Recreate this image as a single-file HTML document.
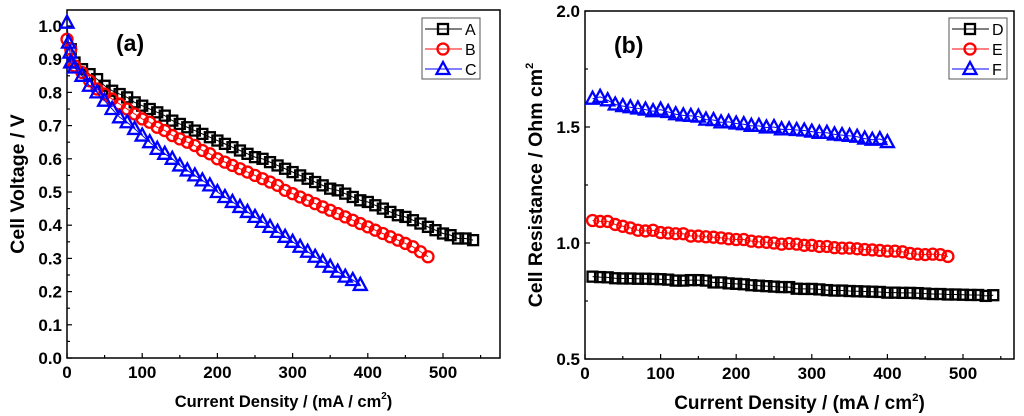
<!DOCTYPE html>
<html><head><meta charset="utf-8"><style>
html,body{margin:0;padding:0;background:#fff;}
svg{display:block;font-family:"Liberation Sans",Arial,sans-serif;}
</style></head><body>
<svg id="s" width="1024" height="416" viewBox="0 0 1024 416"></svg>
<script>
const xA=[5,10,20,30,40,50,60,70,80,90,100,110,120,130,140,150,160,170,180,190,200,210,220,230,240,250,260,270,280,290,300,310,320,330,340,350,360,370,380,390,400,410,420,430,440,450,460,470,480,490,500,510,520,530,540];
const yA=[0.93,0.89,0.87,0.855,0.84,0.82,0.805,0.795,0.785,0.77,0.76,0.75,0.74,0.73,0.715,0.705,0.695,0.685,0.675,0.665,0.655,0.645,0.635,0.625,0.615,0.605,0.6,0.59,0.58,0.57,0.56,0.55,0.54,0.53,0.52,0.51,0.505,0.495,0.485,0.475,0.47,0.46,0.45,0.44,0.43,0.425,0.415,0.405,0.395,0.385,0.375,0.37,0.36,0.36,0.355];
const xB=[0,5,10,20,30,40,50,60,70,80,90,100,110,120,130,140,150,160,170,180,190,200,210,220,230,240,250,260,270,280,290,300,310,320,330,340,350,360,370,380,390,400,410,420,430,440,450,460,470,480];
const yB=[0.96,0.93,0.88,0.86,0.835,0.81,0.795,0.78,0.765,0.75,0.735,0.72,0.71,0.695,0.685,0.67,0.66,0.65,0.64,0.625,0.615,0.6,0.59,0.58,0.57,0.56,0.55,0.54,0.53,0.52,0.505,0.495,0.485,0.475,0.465,0.455,0.445,0.435,0.425,0.415,0.405,0.395,0.385,0.375,0.365,0.355,0.345,0.335,0.32,0.305];
const xC=[0,2,4,5,10,20,30,40,50,60,70,80,90,100,110,120,130,140,150,160,170,180,190,200,210,220,230,240,250,260,270,280,290,300,310,320,330,340,350,360,370,380,390];
const yC=[1.01,0.95,0.92,0.89,0.875,0.85,0.82,0.8,0.775,0.75,0.725,0.71,0.69,0.67,0.65,0.63,0.615,0.6,0.58,0.565,0.55,0.535,0.52,0.5,0.485,0.47,0.455,0.44,0.425,0.41,0.395,0.38,0.365,0.35,0.335,0.32,0.305,0.29,0.275,0.26,0.245,0.235,0.22];
const xD=[10,20,30,40,50,60,70,80,90,100,110,120,130,140,150,160,170,180,190,200,210,220,230,240,250,260,270,280,290,300,310,320,330,340,350,360,370,380,390,400,410,420,430,440,450,460,470,480,490,500,510,520,530,540];
const yD=[0.855,0.853,0.852,0.848,0.847,0.847,0.846,0.846,0.845,0.844,0.842,0.838,0.838,0.84,0.84,0.838,0.83,0.83,0.826,0.824,0.822,0.818,0.816,0.814,0.812,0.81,0.81,0.803,0.802,0.802,0.8,0.797,0.795,0.795,0.793,0.792,0.791,0.79,0.789,0.786,0.786,0.785,0.785,0.784,0.782,0.78,0.78,0.778,0.778,0.777,0.776,0.776,0.772,0.775];
const xE=[10,20,30,40,50,60,70,80,90,100,110,120,130,140,150,160,170,180,190,200,210,220,230,240,250,260,270,280,290,300,310,320,330,340,350,360,370,380,390,400,410,420,430,440,450,460,470,480];
const yE=[1.097,1.093,1.093,1.08,1.072,1.065,1.055,1.052,1.055,1.045,1.043,1.04,1.04,1.03,1.03,1.027,1.025,1.022,1.018,1.015,1.015,1.008,1.005,1.003,1.0,0.995,0.998,0.995,0.99,0.99,0.985,0.985,0.98,0.978,0.978,0.975,0.972,0.97,0.968,0.965,0.965,0.962,0.955,0.952,0.95,0.952,0.95,0.942];
const xF=[10,20,30,40,50,60,70,80,90,100,110,120,130,140,150,160,170,180,190,200,210,220,230,240,250,260,270,280,290,300,310,320,330,340,350,360,370,380,390,400];
const yF=[1.622,1.63,1.615,1.597,1.59,1.585,1.58,1.575,1.568,1.575,1.565,1.555,1.55,1.548,1.545,1.532,1.53,1.52,1.522,1.515,1.512,1.505,1.505,1.498,1.5,1.49,1.49,1.487,1.485,1.48,1.475,1.475,1.468,1.465,1.462,1.458,1.45,1.445,1.448,1.435];
const xTicks=[0,100,200,300,400,500];
const yTicksL=[0.0,0.1,0.2,0.3,0.4,0.5,0.6,0.7,0.8,0.9,1.0];
const yTicksR=[0.5,1.0,1.5,2.0];

const NS="http://www.w3.org/2000/svg";
const svg=document.getElementById('s');
function mk(tag,attrs,parent,text){const e=document.createElementNS(NS,tag);for(const k in attrs)e.setAttribute(k,attrs[k]);if(text!==undefined)e.textContent=text;(parent||svg).appendChild(e);return e;}

function panel(P){
  const g=mk('g',{});
  
  
  const sx=v=>P.x0+(v-0)*(P.x500-P.x0)/500;
  const sy=v=>P.yb+(v-P.ymin)*(P.yt-P.yb)/(P.ymax-P.ymin);
  const fr=mk('rect',{x:P.fl,y:P.ft,width:P.fr-P.fl,height:P.fb-P.ft,fill:'none',stroke:'#000','stroke-width':1.5},g);
  
  for(let v=0;v<=550;v+=50){const X=sx(v);const L=v%100===0?5:3;mk('line',{x1:X,x2:X,y1:P.fb,y2:P.fb-L,stroke:'#000','stroke-width':1.2},g);}
  xTicks.forEach(v=>{const t=mk('text',{x:sx(v),y:P.fb+20,'text-anchor':'middle','font-size':17,'font-weight':'bold'},g,String(v));});
  const yt=P.yticks;const step=(yt[1]-yt[0])/2;
  for(let v=P.ymin;v<=P.ymax+1e-9;v+=step){const Y=sy(v);const major=Math.abs(((v-P.ymin)/(step*2))-Math.round((v-P.ymin)/(step*2)))<1e-6;mk('line',{x1:P.fl,x2:P.fl+(major?5:3),y1:Y,y2:Y,stroke:'#000','stroke-width':1.2},g);}
  yt.forEach(v=>{const t=mk('text',{x:P.fl-5,y:sy(v)+6,'text-anchor':'end','font-size':17,'font-weight':'bold'},g,v.toFixed(1));});
  const xt=mk('text',{x:(P.fl+P.fr)/2,y:P.xty,'text-anchor':'middle','font-size':P.xtfs,'font-weight':'bold'},g);
  xt.innerHTML='Current Density / (mA / cm<tspan font-size="'+(P.xtfs*0.6)+'" dy="-8">2</tspan><tspan dy="8">)</tspan>';
  
  const ytl=mk('text',{x:0,y:0,transform:'translate('+P.ytx+','+((P.ft+P.fb)/2)+') rotate(-90)','text-anchor':'middle','font-size':P.ytfs,'font-weight':'bold'},g);
  ytl.innerHTML=P.ytitle;
  
  const lab=mk('text',{x:P.labx,y:P.laby,'font-size':23,'font-weight':'bold'},g,P.label);
  
  P.series.forEach(s=>{
    const sg=mk('g',{},g);
    
    
    const pts=s.x.map((v,i)=>sx(v)+','+sy(s.y[i])).join(' ');
    mk('polyline',{points:pts,fill:'none',stroke:s.c,'stroke-width':1},sg);
    s.x.forEach((v,i)=>{const m=marker(s.m,sx(v),sy(s.y[i]),s.c,sg);});
  });
  const lg=mk('g',{},g);
  
  mk('rect',{x:P.lx,y:18,width:58,height:61,fill:'#fff',stroke:'#555','stroke-width':1},lg);
  P.series.forEach((s,i)=>{const Y=29+i*20;
    const le=mk('g',{},lg);
    mk('line',{x1:P.lx+3,x2:P.lx+40,y1:Y,y2:Y,stroke:s.c,'stroke-width':1},le);
    marker(s.m,P.lx+21,Y,s.c,le);
    mk('text',{x:P.lx+43,y:Y+6,'font-size':16},le,s.n);});
}
function marker(type,x,y,c,p){
  if(type==='s')return mk('rect',{x:x-5,y:y-5,width:10,height:10,fill:'none',stroke:c,'stroke-width':2.3},p);
  if(type==='o')return mk('circle',{cx:x,cy:y,r:5.5,fill:'none',stroke:c,'stroke-width':2.3},p);
  return mk('polygon',{points:(x-6.5)+','+(y+5)+' '+(x+6.5)+','+(y+5)+' '+x+','+(y-7),fill:'none',stroke:c,'stroke-width':2.3,'stroke-linejoin':'miter'},p);
}
panel({name:'panel-a-voltage',fl:67,fr:500,ft:10,fb:358,x0:67,x500:443,ymin:0,ymax:1,yb:358,yt:26,yticks:yTicksL,
  xty:407,xtfs:16.5,ytx:24,ytfs:19.5,ytitle:'Cell Voltage / V',label:'(a)',labx:116,laby:51,lx:422,
  series:[{n:'A',x:xA,y:yA,c:'#000',m:'s'},{n:'B',x:xB,y:yB,c:'#f00',m:'o'},{n:'C',x:xC,y:yC,c:'#00f',m:'t'}]});
panel({name:'panel-b-resistance',fl:585,fr:1014,ft:11,fb:359,x0:585,x500:963,ymin:0.5,ymax:2.0,yb:359,yt:11,yticks:yTicksR,
  xty:409,xtfs:19,ytx:542,ytfs:19.5,ytitle:'Cell Resistance / Ohm cm<tspan font-size="11" dy="-9">2</tspan>',label:'(b)',labx:614,laby:53,lx:949,
  series:[{n:'D',x:xD,y:yD,c:'#000',m:'s'},{n:'E',x:xE,y:yE,c:'#f00',m:'o'},{n:'F',x:xF,y:yF,c:'#00f',m:'t'}]});
</script>
</body></html>
